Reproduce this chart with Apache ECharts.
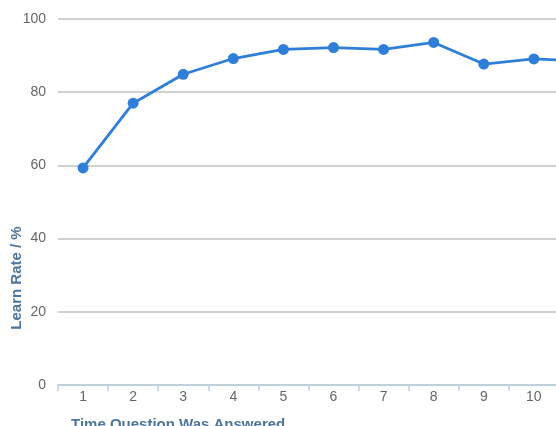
<!DOCTYPE html>
<html>
<head>
<meta charset="utf-8">
<script src="https://cdn.jsdelivr.net/npm/echarts@6/dist/echarts.min.js"></script>
<style>
  html, body { margin: 0; padding: 0; overflow: hidden; background: #fff; }
  #chart { width: 620px; height: 426px; }
</style>
</head>
<body>
<div id="chart"></div>
<script>
// Attempt number at which the question was answered
const categories = ['1', '2', '3', '4', '5', '6', '7', '8', '9', '10', '11'];
// Learn rate (%) per attempt
const learnRate = [59.3, 77.0, 84.9, 89.2, 91.7, 92.2, 91.7, 93.6, 87.7, 89.1, 88.5];
const yTicks = { min: 0, max: 100, interval: 20 };

const FONT = 'Liberation Sans, Arial, sans-serif';
const chart = echarts.init(document.getElementById('chart'), null, { renderer: 'canvas' });

chart.setOption({
  animation: false,
  grid: { left: 58, right: 11, top: 19, bottom: 41, outerBoundsMode: 'none', containLabel: false },
  xAxis: {
    type: 'category',
    data: categories,
    boundaryGap: true,
    name: 'Time Question Was Answered',
    nameLocation: 'start',
    nameGap: -13,
    nameMoveOverlap: false,
    nameTextStyle: {
      align: 'left', verticalAlign: 'top',
      padding: [32, 0, 0, 0],
      color: '#4d759e', fontWeight: 'bold', fontSize: 15, fontFamily: FONT
    },
    axisLine: { lineStyle: { color: '#C0D0E0', width: 2 } },
    axisTick: { show: true, length: 6, lineStyle: { color: '#C0D0E0', width: 1.5 } },
    axisLabel: { color: '#666', fontSize: 14, margin: 5, fontFamily: FONT },
    splitLine: { show: false }
  },
  yAxis: {
    type: 'value',
    min: yTicks.min, max: yTicks.max, interval: yTicks.interval,
    name: 'Learn Rate / %',
    nameLocation: 'middle',
    nameRotate: 90,
    nameGap: 34,
    nameMoveOverlap: false,
    nameTextStyle: {
      padding: [0, 152, 0, 0],
      color: '#4d759e', fontWeight: 'bold', fontSize: 15, fontFamily: FONT
    },
    axisLine: { show: false },
    axisTick: { show: false },
    axisLabel: { color: '#666', fontSize: 14, margin: 12, fontFamily: FONT },
    splitLine: { lineStyle: { color: '#D0D0D0', width: 2 } }
  },
  series: [{
    type: 'line',
    data: learnRate,
    symbol: 'circle',
    symbolSize: 11,
    lineStyle: { color: '#2f7ed8', width: 2.8 },
    itemStyle: { color: '#2f7ed8' }
  }]
});
</script>
</body>
</html>
